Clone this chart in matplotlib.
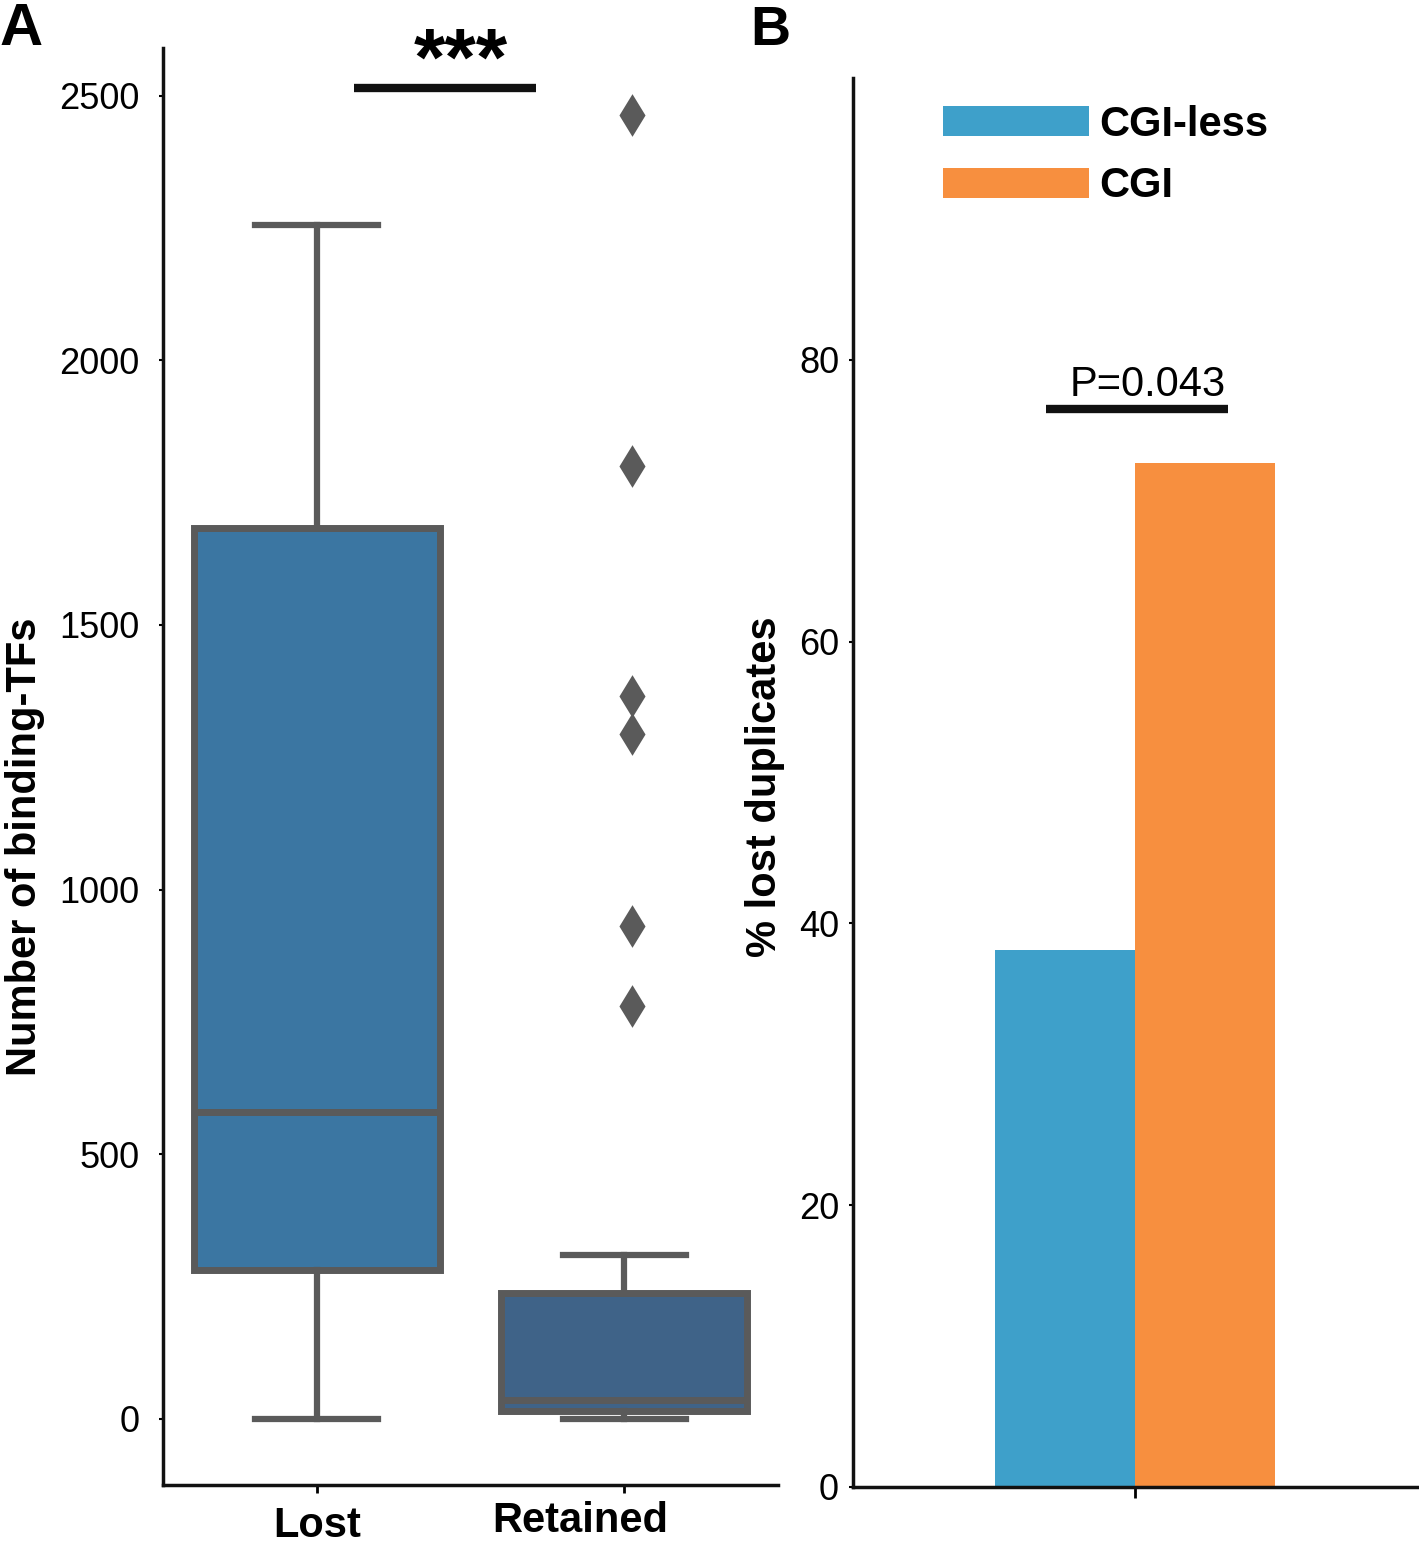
import numpy as np
import matplotlib
matplotlib.use("Agg")
import matplotlib.pyplot as plt
from matplotlib.transforms import ScaledTranslation

plt.rcParams['font.family'] = ['Liberation Sans', 'DejaVu Sans']

###### data ######
# panel A: box summary
groups = ['Lost', 'Retained']
whis_lo = [0, 0]
q1 = [281, 15]
medians = [580, 35]
q3 = [1684, 238]
whis_hi = [2255, 310]
retained_fliers = [2464, 1800, 1365, 1293, 931, 780]
box_colors = ['#3b76a2', '#3f6388']

# panel B: % lost duplicates
cgi_labels = ['CGI-less', 'CGI']
pct_lost = [38.1, 72.7]
bar_colors = ['#3ea0ca', '#f78f3f']

fig = plt.figure(figsize=(14.19, 15.43), dpi=100)

####panel A: boxplot####
axA = fig.add_axes([0.1149, 0.0376, 0.4334, 0.9313])
stats = []
for i, g in enumerate(groups):
    stats.append({'label': g, 'whislo': whis_lo[i], 'q1': q1[i], 'med': medians[i],
                  'q3': q3[i], 'whishi': whis_hi[i], 'fliers': []})
grey = '#5a5a5a'
bp = axA.bxp(stats, positions=[0, 1], widths=0.8, patch_artist=True, showfliers=False,
             boxprops=dict(edgecolor=grey, linewidth=5),
             whiskerprops=dict(color=grey, linewidth=4.5),
             capprops=dict(color=grey, linewidth=4.5),
             medianprops=dict(color=grey, linewidth=5))
for patch, c in zip(bp['boxes'], box_colors):
    patch.set_facecolor(c)
for cap in bp['caps']:
    m = np.mean(cap.get_xdata())
    cap.set_xdata([m - 0.2, m + 0.2])
# outliers of the Retained group (drawn slightly right of the box centre, as in the figure)
axA.plot([1.026] * len(retained_fliers), retained_fliers, linestyle='none', marker='d',
         markersize=18, color=grey, markeredgewidth=2.5)

axA.set_xlim(-0.5, 1.5)
axA.set_ylim(-125, 2590)
axA.set_yticks([0, 500, 1000, 1500, 2000, 2500])
axA.tick_params(axis='y', labelsize=26, length=3, width=1.5, pad=14)
axA.tick_params(axis='x', labelsize=30, length=6, width=2, pad=9)
for lbl in axA.get_xticklabels():
    lbl.set_fontweight('bold')
axA.get_xticklabels()[1].set_transform(axA.get_xticklabels()[1].get_transform()
                                       + ScaledTranslation(-0.44, 0.05, fig.dpi_scale_trans))
for s in ['top', 'right']:
    axA.spines[s].set_visible(False)
for s in ['left', 'bottom']:
    axA.spines[s].set_linewidth(2.5)
    axA.spines[s].set_color('#111111')

# significance bar
axA.plot([0.12, 0.714], [2515, 2515], color='#111111', linewidth=6, solid_capstyle='butt', clip_on=False)
axA.text(0.467, 2488, '***', ha='center', va='bottom', fontsize=58, fontweight='bold', clip_on=False)

####panel B: bars####
axB = fig.add_axes([0.6011, 0.0363, 0.3989, 0.9131])
xpos = [-0.2, 0.2]
for x, v, c, l in zip(xpos, pct_lost, bar_colors, cgi_labels):
    axB.bar(x, v, width=0.4, color=c, label=l)
axB.set_xlim(-0.806, 0.811)
axB.set_ylim(0, 100)
axB.set_yticks([0, 20, 40, 60, 80])
axB.set_xticks([0])
axB.set_xticklabels([''])
axB.tick_params(axis='y', labelsize=26, length=3, width=1.5, pad=7)
axB.tick_params(axis='x', length=8, width=2)
for s in ['top', 'right']:
    axB.spines[s].set_visible(False)
for s in ['left', 'bottom']:
    axB.spines[s].set_linewidth(2.5)
    axB.spines[s].set_color('#111111')

axB.plot([-0.254, 0.266], [76.5, 76.5], color='#111111', linewidth=6, solid_capstyle='butt')
axB.text(0.037, 76.8, 'P=0.043', ha='center', va='bottom', fontsize=30)

axB.legend(loc='upper left', bbox_to_anchor=(0.123, 0.996), frameon=False, borderpad=0,
           handlelength=3.5, handleheight=0.72, handletextpad=0.25, labelspacing=0.52,
           prop={'size': 30, 'weight': 'bold'})

####labels####
fig.text(25 / 1419, 1 - 847 / 1543, 'Number of binding-TFs', rotation=90, ha='center', va='center',
         fontsize=30, fontweight='bold')
fig.text(765 / 1419, 1 - 787 / 1543, '% lost duplicates', rotation=90, ha='center', va='center',
         fontsize=30, fontweight='bold')
fig.text(0, 1 - 45 / 1543, 'A', fontsize=43, fontweight='bold', ha='left', va='baseline')
fig.text(750 / 1419, 1 - 45 / 1543, 'B', fontsize=40, fontweight='bold', ha='left', va='baseline')

fig.savefig('out.png', dpi=100)
